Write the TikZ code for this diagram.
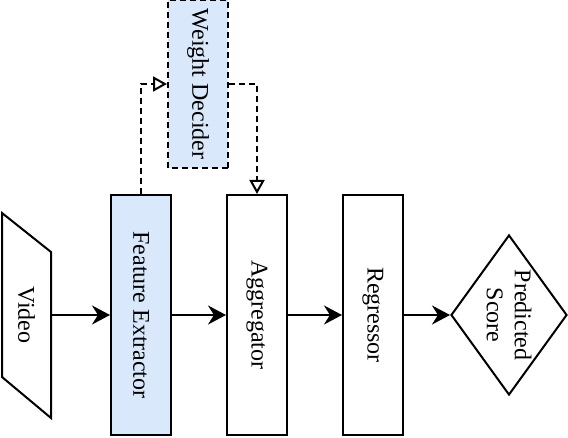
\documentclass[tikz,border=0pt]{standalone}
\usepackage{fontspec}
\setmainfont{Liberation Serif}
\usetikzlibrary{shapes.geometric,arrows.meta}
\definecolor{lightblue}{HTML}{DAE8FC}

\begin{document}
\begin{tikzpicture}[x=.5pt,y=-.5pt,line width=1pt,
    font=\fontsize{12}{14}\selectfont,
    block/.style={draw,rotate=-90,inner sep=0pt,minimum width=120pt,minimum height=30pt},
    flow/.style={-{Stealth[length=9pt,width=9.5pt,inset=3pt]}},
    hint/.style={dash pattern=on 3pt off 2pt,-{Triangle[open,length=7pt,width=7.5pt]}}]
  \pgfmathsetmacro{\m}{315}
  \pgfmathsetmacro{\d}{116}
  \useasboundingbox (0,0) rectangle (568,438);

  % video input, slanted outline
  \draw (2,213) -- (51,252) -- (51,418) -- (2,377) -- cycle;
  \node[rotate=-90,inner sep=0pt,minimum width=80pt,minimum height=24.5pt] (video) at (26.5,\m) {Video};

  \node[block,fill=lightblue] (extractor) at (141,\m) {Feature Extractor};
  \node[block] (aggregator) at (141 + \d,\m) {Aggregator};
  \node[block] (regressor) at (141 + \d * 2,\m) {Regressor};
  \node[draw,diamond,rotate=-90,inner sep=0pt,aspect=1.38,align=center,
    minimum width=80pt,minimum height=58pt] (score) at (509,\m) {Predicted\\Score};

  \node[block,fill=lightblue,dash pattern=on 3pt off 2pt,minimum width=84pt] (decider) at (198,84) {Weight Decider};

  \draw[flow] (video) -- (extractor);
  \draw[flow] (extractor) -- (aggregator);
  \draw[flow] (aggregator) -- (regressor);
  \draw[flow] (regressor) -- (score);
  \draw[hint] (extractor) |- (decider);
  \draw[hint] (decider) -| (aggregator);
\end{tikzpicture}
\end{document}
